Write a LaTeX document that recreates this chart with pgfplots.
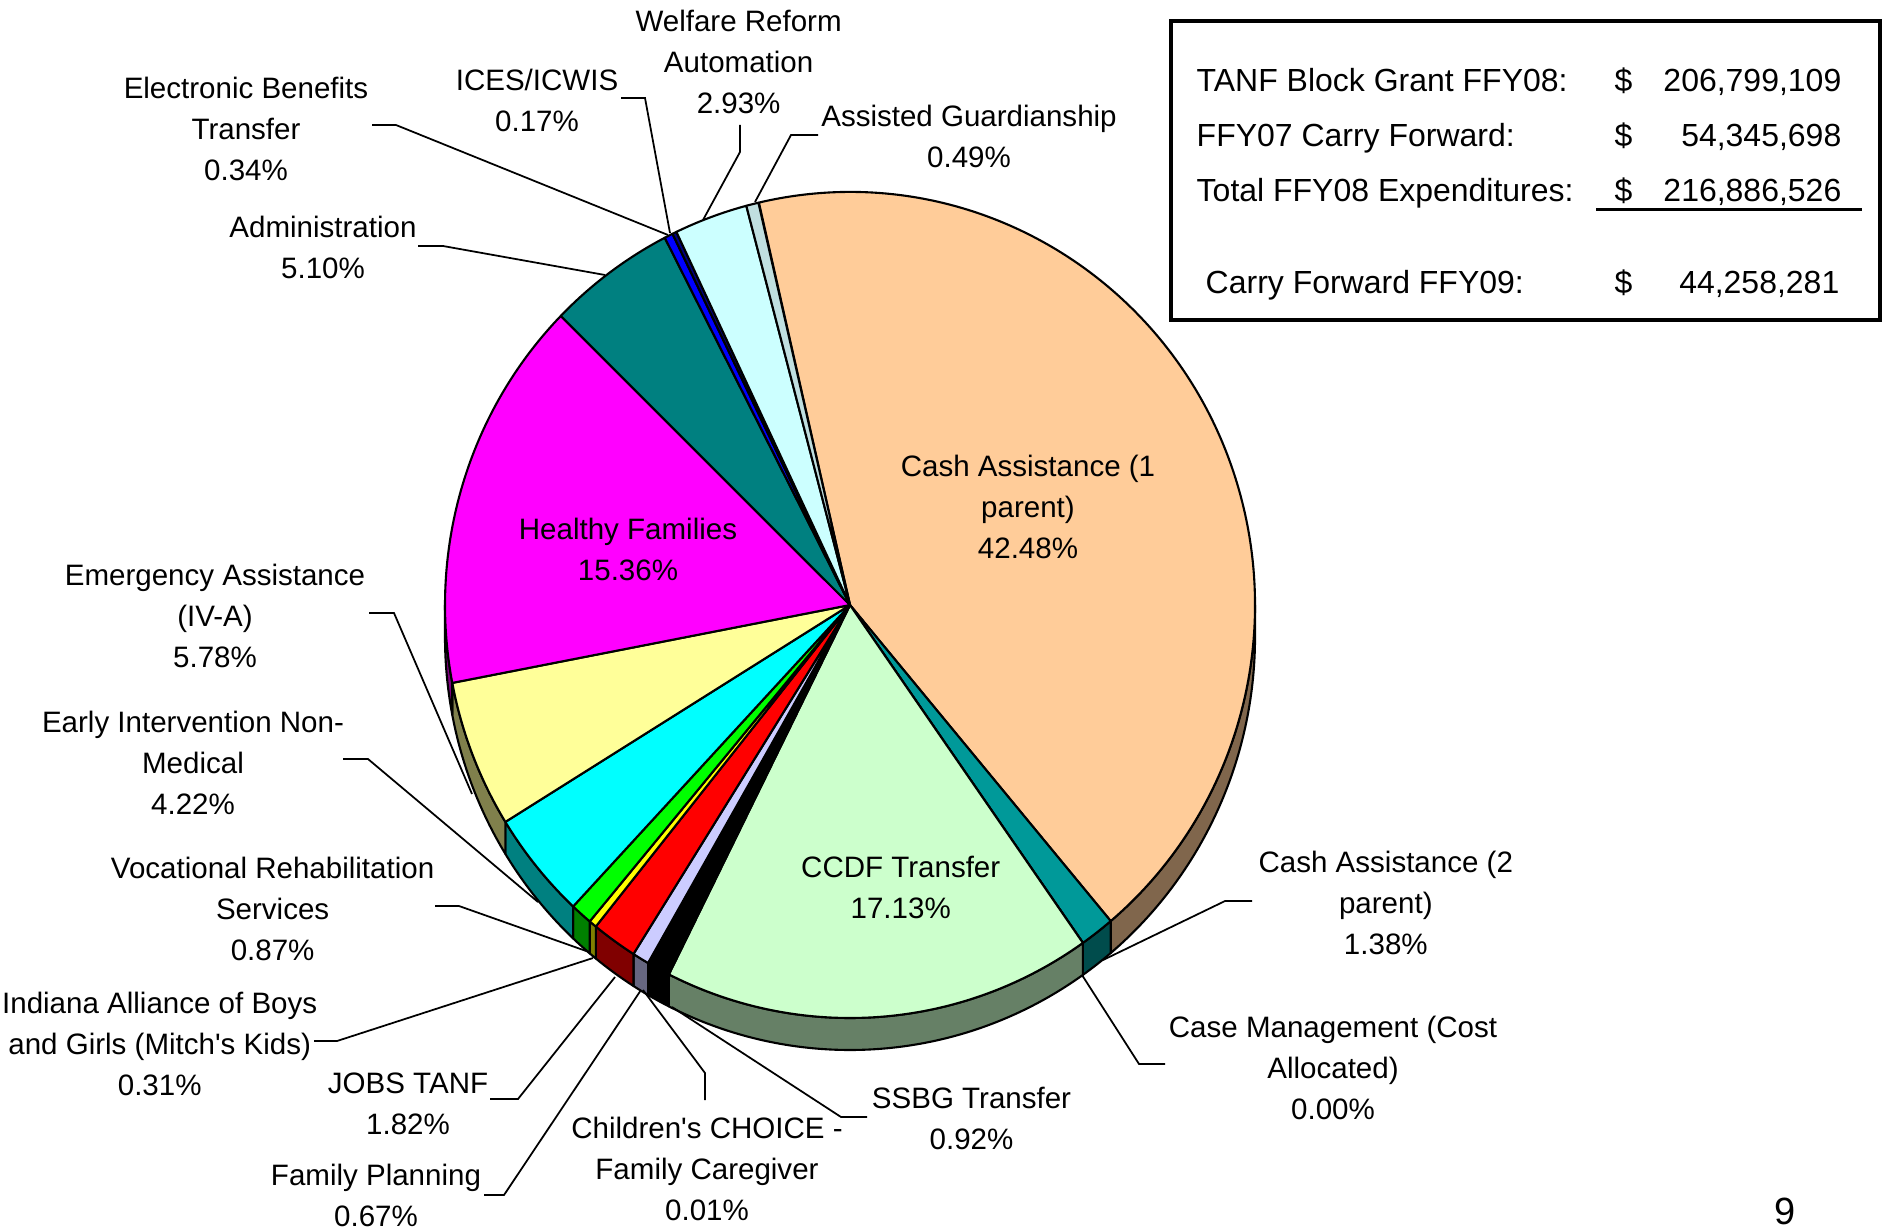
\documentclass[border=0pt]{standalone}
\usepackage{pgfplots}
\pgfplotsset{compat=1.18}
\usepackage{pgfplotstable}
\usepackage{fontspec}
\setmainfont{Liberation Sans}

\definecolor{cCashA}{HTML}{FFCC99}
\definecolor{cCashB}{HTML}{009999}
\definecolor{cCase}{HTML}{008080}
\definecolor{cCCDF}{HTML}{CCFFCC}
\definecolor{cSSBG}{HTML}{000000}
\definecolor{cChoice}{HTML}{C0C0C0}
\definecolor{cFam}{HTML}{CCCCFF}
\definecolor{cJobs}{HTML}{FF0000}
\definecolor{cInd}{HTML}{FFFF00}
\definecolor{cVoc}{HTML}{00FF00}
\definecolor{cEarly}{HTML}{00FFFF}
\definecolor{cEmerg}{HTML}{FFFF99}
\definecolor{cHealthy}{HTML}{FF00FF}
\definecolor{cAdmin}{HTML}{008080}
\definecolor{cEBT}{HTML}{0000FF}
\definecolor{cICES}{HTML}{000080}
\definecolor{cWelf}{HTML}{CCFFFF}
\definecolor{cAssist}{HTML}{C0DFE0}

\pgfplotstableread[col sep=comma]{
label,value,color
Cash Assistance (1 parent),42.48,cCashA
Cash Assistance (2 parent),1.38,cCashB
Case Management,0.00,cCase
CCDF Transfer,17.13,cCCDF
SSBG Transfer,0.92,cSSBG
Childrens CHOICE,0.01,cChoice
Family Planning,0.67,cFam
JOBS TANF,1.82,cJobs
Indiana Alliance,0.31,cInd
Vocational Rehabilitation,0.87,cVoc
Early Intervention,4.22,cEarly
Emergency Assistance,5.78,cEmerg
Healthy Families,15.36,cHealthy
Administration,5.10,cAdmin
Electronic Benefits Transfer,0.34,cEBT
ICES/ICWIS,0.17,cICES
Welfare Reform Automation,2.93,cWelf
Assisted Guardianship,0.49,cAssist
}\piedata

\newcommand\lbl{\fontsize{8.4}{11.67}\selectfont}
\newcommand\lgd{\fontsize{9.1}{12}\selectfont}

\begin{document}
\begin{tikzpicture}
\begin{axis}[at={(0,0)}, anchor=south west,
  width=18.83cm, height=12.30cm, scale only axis,
  xmin=0, xmax=1883, ymin=0, ymax=1230, y dir=reverse,
  hide axis, clip=false]
\pgfplotsextra{
  \pgfplotstablegetrowsof{\piedata}
  \pgfmathtruncatemacro\lastrow{\pgfplotsretval-1}
  \xdef\angA{103}
  \foreach \i in {0,...,\lastrow}{
    \pgfplotstablegetelem{\i}{value}\of\piedata
    \let\v\pgfplotsretval
    \pgfplotstablegetelem{\i}{color}\of\piedata
    \let\c\pgfplotsretval
    \colorlet{topcol}{\c}
    \colorlet{sidecol}{\c!50!black}
    \pgfmathsetmacro\angB{\angA-3.6*\v}
    \pgfmathsetmacro\wa{max(\angB,-180)}
    \pgfmathsetmacro\wb{min(\angA,0)}
    \ifdim\wa pt<\wb pt
      \filldraw[fill=sidecol, line width=0.6pt, line join=round]
        (axis cs:850,605) ++(\wa:4.05cm and 4.13cm)
        arc[start angle=\wa, end angle=\wb, x radius=4.05cm, y radius=4.13cm]
        -- ++(0pt,-0.32cm)
        arc[start angle=\wb, end angle=\wa, x radius=4.05cm, y radius=4.13cm]
        -- cycle;
    \fi
    \filldraw[fill=topcol, line width=0.6pt, line join=round]
      (axis cs:850,605) -- ++(\angA:4.05cm and 4.13cm)
      arc[start angle=\angA, end angle=\angB, x radius=4.05cm, y radius=4.13cm]
      -- cycle;
    \xdef\angA{\angB}
  }
}

% leader lines
\draw[line width=0.5pt] (axis cs:372,125) -- (axis cs:396,125) -- (axis cs:668,235);
\draw[line width=0.5pt] (axis cs:621,98) -- (axis cs:645,98) -- (axis cs:670,233);
\draw[line width=0.5pt] (axis cs:418,246) -- (axis cs:443,246) -- (axis cs:605,275);
\draw[line width=0.5pt] (axis cs:740,125) -- (axis cs:740,152) -- (axis cs:703,220);
\draw[line width=0.5pt] (axis cs:818,135) -- (axis cs:791,135) -- (axis cs:755,202);
\draw[line width=0.5pt] (axis cs:369,613) -- (axis cs:394,613) -- (axis cs:472,794);
\draw[line width=0.5pt] (axis cs:343,759) -- (axis cs:368,759) -- (axis cs:538,902);
\draw[line width=0.5pt] (axis cs:435,906) -- (axis cs:459,906) -- (axis cs:589,952);
\draw[line width=0.5pt] (axis cs:314,1041) -- (axis cs:337,1041) -- (axis cs:593,958);
\draw[line width=0.5pt] (axis cs:490,1099) -- (axis cs:518,1099) -- (axis cs:615,977);
\draw[line width=0.5pt] (axis cs:484,1195) -- (axis cs:504,1195) -- (axis cs:641,990);
\draw[line width=0.5pt] (axis cs:705,1100) -- (axis cs:705,1073) -- (axis cs:643,990);
\draw[line width=0.5pt] (axis cs:867,1117) -- (axis cs:841,1117) -- (axis cs:672,1007);
\draw[line width=0.5pt] (axis cs:1165,1064) -- (axis cs:1139,1064) -- (axis cs:1082,975);
\draw[line width=0.5pt] (axis cs:1252,901) -- (axis cs:1225,901) -- (axis cs:1103,960);

% labels
\node[font=\lbl, align=center] at (axis cs:738.6,62) {Welfare Reform\\Automation\\2.93\%};
\node[font=\lbl, align=center] at (axis cs:969,136) {Assisted Guardianship\\0.49\%};
\node[font=\lbl, align=center] at (axis cs:537,100) {ICES/ICWIS\\0.17\%};
\node[font=\lbl, align=center] at (axis cs:246,128.5) {Electronic Benefits\\Transfer\\0.34\%};
\node[font=\lbl, align=center] at (axis cs:323,247) {Administration\\5.10\%};
\node[font=\lbl, align=center] at (axis cs:1028,507) {Cash Assistance (1\\parent)\\42.48\%};
\node[font=\lbl, align=center] at (axis cs:628,549) {Healthy Families\\15.36\%};
\node[font=\lbl, align=center] at (axis cs:215,616) {Emergency Assistance\\(IV-A)\\5.78\%};
\node[font=\lbl, align=center] at (axis cs:193,762.6) {Early Intervention Non-\\Medical\\4.22\%};
\node[font=\lbl, align=center] at (axis cs:272.6,909) {Vocational Rehabilitation\\Services\\0.87\%};
\node[font=\lbl, align=center] at (axis cs:159.7,1043.6) {Indiana Alliance of Boys\\and Girls (Mitch\textquotesingle s Kids)\\0.31\%};
\node[font=\lbl, align=center] at (axis cs:408,1103.6) {JOBS TANF\\1.82\%};
\node[font=\lbl, align=center] at (axis cs:376,1195.5) {Family Planning\\0.67\%};
\node[font=\lbl, align=center] at (axis cs:707,1168.5) {Children\textquotesingle s CHOICE -\\Family Caregiver\\0.01\%};
\node[font=\lbl, align=center] at (axis cs:971.5,1118) {SSBG Transfer\\0.92\%};
\node[font=\lbl, align=center] at (axis cs:900.7,887) {CCDF Transfer\\17.13\%};
\node[font=\lbl, align=center] at (axis cs:1385.8,903) {Cash Assistance (2\\parent)\\1.38\%};
\node[font=\lbl, align=center] at (axis cs:1333,1067.6) {Case Management (Cost\\Allocated)\\0.00\%};
\node[font=\fontsize{10.8}{13}\selectfont, inner sep=0pt, anchor=base] at (axis cs:1785,1224) {9};

% summary box
\draw[line width=0.9pt] (axis cs:1171,21) rectangle (axis cs:1880,320);
\node[font=\lgd, inner sep=0pt, anchor=base west] at (axis cs:1196,91.7) {TANF Block Grant FFY08:};
\node[font=\lgd, inner sep=0pt, anchor=base west] at (axis cs:1196,146.7) {FFY07 Carry Forward:};
\node[font=\lgd, inner sep=0pt, anchor=base west] at (axis cs:1196,201.7) {Total FFY08 Expenditures:};
\node[font=\lgd, inner sep=0pt, anchor=base west] at (axis cs:1205,293.3) {Carry Forward FFY09:};
\node[font=\lgd, inner sep=0pt, anchor=base west] at (axis cs:1614,91.7) {\$};
\node[font=\lgd, inner sep=0pt, anchor=base west] at (axis cs:1614,146.7) {\$};
\node[font=\lgd, inner sep=0pt, anchor=base west] at (axis cs:1614,201.7) {\$};
\node[font=\lgd, inner sep=0pt, anchor=base west] at (axis cs:1614,293.3) {\$};
\node[font=\lgd, inner sep=0pt, anchor=base east] at (axis cs:1842,91.7) {206,799,109};
\node[font=\lgd, inner sep=0pt, anchor=base east] at (axis cs:1842,146.7) {54,345,698};
\node[font=\lgd, inner sep=0pt, anchor=base east] at (axis cs:1842,201.7) {216,886,526};
\node[font=\lgd, inner sep=0pt, anchor=base east] at (axis cs:1840,293.3) {44,258,281};
\draw[line width=0.7pt] (axis cs:1596,209.5) -- (axis cs:1862,209.5);
\end{axis}
\pgfresetboundingbox
\path[use as bounding box] (0,0) rectangle (18.83,12.30);
\end{tikzpicture}
\end{document}
